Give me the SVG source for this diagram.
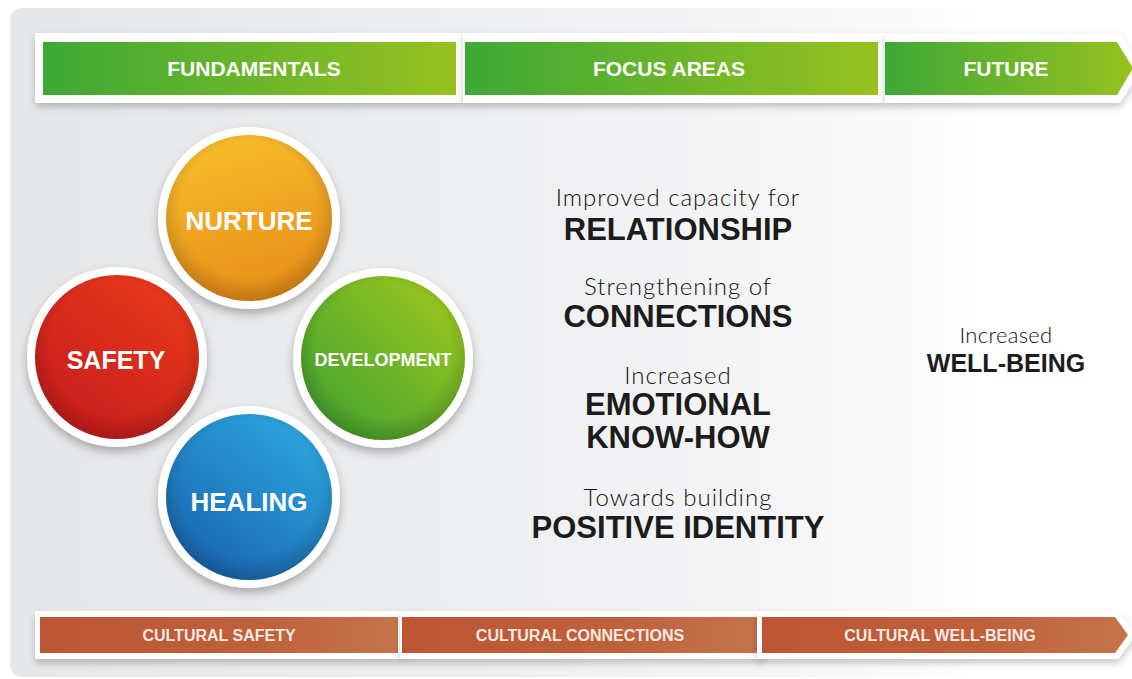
<svg xmlns="http://www.w3.org/2000/svg" width="1132" height="679" viewBox="0 0 1132 679">
<defs>
  <linearGradient id="bg" x1="0" y1="0" x2="1" y2="0">
    <stop offset="0" stop-color="#e6e7e9"/>
    <stop offset="0.45" stop-color="#eeeff1"/>
    <stop offset="0.75" stop-color="#f8f8f9"/>
    <stop offset="0.85" stop-color="#ffffff"/>
  </linearGradient>
  <linearGradient id="grn" x1="0" y1="0" x2="1" y2="0">
    <stop offset="0" stop-color="#3da935"/>
    <stop offset="1" stop-color="#97c11f"/>
  </linearGradient>
  <linearGradient id="org" x1="0" y1="0" x2="1" y2="0">
    <stop offset="0" stop-color="#bd5535"/>
    <stop offset="0.6" stop-color="#c0603b"/>
    <stop offset="1" stop-color="#c4744c"/>
  </linearGradient>
  <linearGradient id="cNur" x1="0.3" y1="0" x2="0.6" y2="1">
    <stop offset="0" stop-color="#f7bd2a"/>
    <stop offset="1" stop-color="#e88d18"/>
  </linearGradient>
  <linearGradient id="cSaf" x1="0.8" y1="0.1" x2="0.2" y2="0.9">
    <stop offset="0" stop-color="#e6381a"/>
    <stop offset="1" stop-color="#c81d1d"/>
  </linearGradient>
  <linearGradient id="cDev" x1="0.9" y1="0.1" x2="0.1" y2="0.9">
    <stop offset="0" stop-color="#98c61f"/>
    <stop offset="1" stop-color="#45a32f"/>
  </linearGradient>
  <linearGradient id="cHea" x1="0.8" y1="0.1" x2="0.2" y2="0.9">
    <stop offset="0" stop-color="#2ba3dc"/>
    <stop offset="1" stop-color="#1a68b2"/>
  </linearGradient>
  <radialGradient id="shade" cx="0.5" cy="0.45" r="0.55">
    <stop offset="0.75" stop-color="#000" stop-opacity="0"/>
    <stop offset="1" stop-color="#000" stop-opacity="0.18"/>
  </radialGradient>
  <filter id="sh" x="-20%" y="-20%" width="140%" height="150%">
    <feDropShadow dx="0" dy="5" stdDeviation="5" flood-color="#000" flood-opacity="0.28"/>
  </filter>
  <filter id="shb" x="-5%" y="-30%" width="110%" height="170%">
    <feDropShadow dx="0" dy="4" stdDeviation="3.5" flood-color="#000" flood-opacity="0.22"/>
  </filter>
  <style>
    .frame{fill:#ffffff}
    .bl{font-family:"Liberation Sans",Arial,sans-serif;font-weight:bold;fill:#ffffff;text-anchor:middle}
    .ol{font-family:"Liberation Sans",Arial,sans-serif;font-weight:bold;fill:#f6e9e2;text-anchor:middle;font-size:16px}
    .lt{font-family:Lato,"Open Sans",sans-serif;font-weight:300;fill:#111;text-anchor:middle;font-size:24px;letter-spacing:1px}
    .bd{font-family:"Liberation Sans",Arial,sans-serif;font-weight:bold;fill:#1c1c1c;text-anchor:middle;font-size:31px}
    .ring{fill:#ffffff}
  </style>
</defs>

<rect x="0" y="0" width="1132" height="679" fill="#ffffff"/>
<rect x="10" y="8" width="1140" height="669" rx="12" fill="url(#bg)"/>

<!-- Top phase bar -->
<g id="fundamentals">
  <rect x="35" y="33" width="428" height="70" class="frame" filter="url(#shb)"/>
  <rect x="43" y="42" width="413" height="53" fill="url(#grn)"/>
  <text x="254" y="76" class="bl" font-size="21">FUNDAMENTALS</text>
</g>
<g id="focus-areas">
  <rect x="463" y="33" width="422" height="70" class="frame" filter="url(#shb)"/>
  <rect x="465" y="42" width="413" height="53" fill="url(#grn)"/>
  <text x="669" y="76" class="bl" font-size="21">FOCUS AREAS</text>
</g>
<g id="future">
  <polygon points="885,33 1120,33 1142,68 1120,103 885,103" class="frame" filter="url(#shb)"/>
  <polygon points="885,42 1117,42 1133,68 1117,95 885,95" fill="url(#grn)"/>
  <text x="1006" y="76" class="bl" font-size="21">FUTURE</text>
</g>

<!-- Circles -->
<g id="nurture">
  <circle cx="249" cy="218" r="91" class="ring" filter="url(#sh)"/>
  <circle cx="249" cy="218" r="83" fill="url(#cNur)"/>
  <circle cx="249" cy="218" r="83" fill="url(#shade)"/>
  <text x="249" y="230" class="bl" font-size="26">NURTURE</text>
</g>
<g id="safety">
  <circle cx="117" cy="357" r="90" class="ring" filter="url(#sh)"/>
  <circle cx="117" cy="357" r="82" fill="url(#cSaf)"/>
  <circle cx="117" cy="357" r="82" fill="url(#shade)"/>
  <text x="116" y="369" class="bl" font-size="25">SAFETY</text>
</g>
<g id="development">
  <circle cx="383" cy="358" r="90" class="ring" filter="url(#sh)"/>
  <circle cx="383" cy="358" r="82" fill="url(#cDev)"/>
  <circle cx="383" cy="358" r="82" fill="url(#shade)"/>
  <text x="383" y="366" class="bl" font-size="18">DEVELOPMENT</text>
</g>
<g id="healing">
  <circle cx="249" cy="497" r="91" class="ring" filter="url(#sh)"/>
  <circle cx="249" cy="497" r="83" fill="url(#cHea)"/>
  <circle cx="249" cy="497" r="83" fill="url(#shade)"/>
  <text x="249" y="511" class="bl" font-size="26">HEALING</text>
</g>

<!-- Focus area texts -->
<g id="relationship">
  <text x="678" y="206" class="lt">Improved capacity for</text>
  <text x="678" y="240" class="bd">RELATIONSHIP</text>
</g>
<g id="connections">
  <text x="678" y="295" class="lt">Strengthening of</text>
  <text x="678" y="327" class="bd">CONNECTIONS</text>
</g>
<g id="emotional">
  <text x="678" y="384" class="lt">Increased</text>
  <text x="678" y="415" class="bd">EMOTIONAL</text>
  <text x="678" y="448" class="bd">KNOW-HOW</text>
</g>
<g id="identity">
  <text x="678" y="506" class="lt">Towards building</text>
  <text x="678" y="538" class="bd">POSITIVE IDENTITY</text>
</g>
<g id="well-being">
  <text x="1006" y="343" class="lt" style="font-size:22px;letter-spacing:0.3px">Increased</text>
  <text x="1006" y="372" class="bd" style="font-size:25px">WELL-BEING</text>
</g>

<!-- Bottom cultural bar -->
<g id="cultural-safety">
  <rect x="35" y="611" width="367" height="48" class="frame" filter="url(#shb)"/>
  <rect x="40" y="617" width="358" height="36" fill="url(#org)"/>
  <text x="219" y="641" class="ol">CULTURAL SAFETY</text>
</g>
<g id="cultural-connections">
  <rect x="400" y="611" width="363" height="48" class="frame" filter="url(#shb)"/>
  <rect x="402" y="617" width="355" height="36" fill="url(#org)"/>
  <text x="580" y="641" class="ol">CULTURAL CONNECTIONS</text>
</g>
<g id="cultural-well-being">
  <polygon points="757,611 1118,611 1136,635 1118,659 757,659" class="frame" filter="url(#shb)"/>
  <polygon points="762,617 1115,617 1128,635 1115,653 762,653" fill="url(#org)"/>
  <text x="940" y="641" class="ol">CULTURAL WELL-BEING</text>
</g>
</svg>
